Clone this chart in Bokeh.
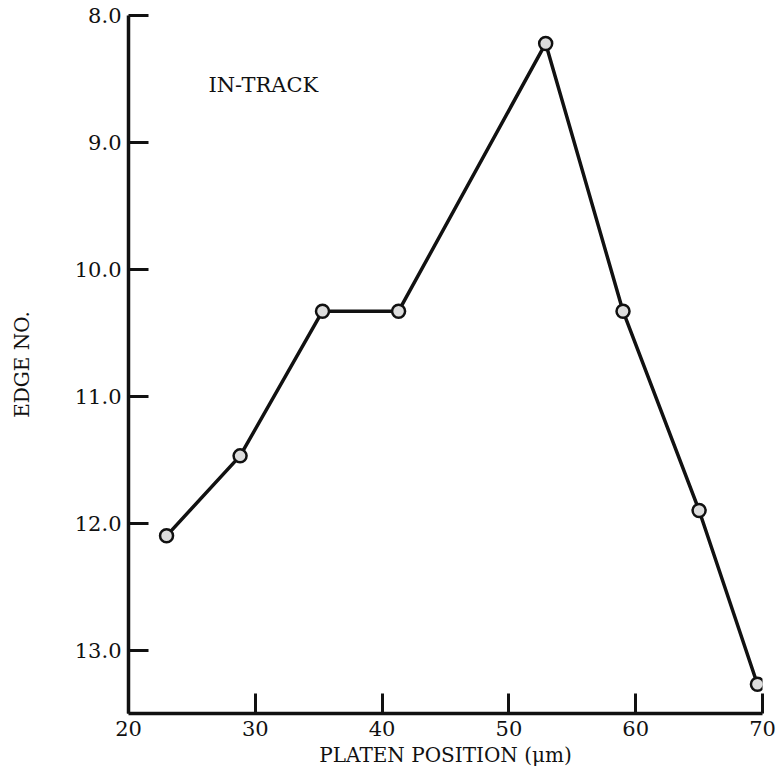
from bokeh.plotting import figure
from bokeh.models import Range1d, FixedTicker, PrintfTickFormatter, Label
from bokeh.embed import file_html
from bokeh.resources import INLINE

# Data
platen_position = [23.0, 28.8, 35.3, 41.3, 52.9, 59.0, 65.0, 69.6]
edge_no = [12.10, 11.47, 10.33, 10.33, 8.22, 10.33, 11.90, 13.27]
x_ticks = [20, 30, 40, 50, 60, 70]
y_ticks = [8, 9, 10, 11, 12, 13]

FONT = "DejaVu Serif"

p = figure(width=780, height=780, output_backend="svg", toolbar_location=None,
           x_range=Range1d(20, 70), y_range=Range1d(13.5, 8.0),
           min_border_left=128, min_border_right=18, min_border_top=15,
           min_border_bottom=67)
p.outline_line_color = None
p.xgrid.visible = False
p.ygrid.visible = False
p.background_fill_color = "white"
p.border_fill_color = "white"

p.line(platen_position, edge_no, line_color="#111111", line_width=3.5)
p.scatter(platen_position, edge_no, size=13, marker="circle",
          fill_color="#dddddd", line_color="#111111", line_width=2.5)

for ax in (p.xaxis[0], p.yaxis[0]):
    ax.axis_line_width = 3.5
    ax.axis_line_color = "#111111"
    ax.major_tick_line_width = 3
    ax.major_tick_line_color = "#111111"
    ax.major_tick_in = 20
    ax.major_tick_out = 0
    ax.minor_tick_line_color = None
    ax.major_label_text_font = FONT
    ax.major_label_text_font_size = "21px"
    ax.major_label_text_color = "#111111"
    ax.major_label_standoff = 7
    ax.axis_label_text_font = FONT
    ax.axis_label_text_font_style = "normal"
    ax.axis_label_text_font_size = "20px"
    ax.axis_label_text_color = "#111111"

p.xaxis.ticker = FixedTicker(ticks=x_ticks)
p.yaxis.ticker = FixedTicker(ticks=y_ticks)
p.yaxis.formatter = PrintfTickFormatter(format="%.1f")

p.yaxis.axis_label = "EDGE NO."
p.yaxis.axis_label_standoff = 38

p.xaxis.axis_label = "PLATEN POSITION (μm)"
p.xaxis.axis_label_standoff = 4

p.add_layout(Label(x=26.3, y=8.55, text="IN-TRACK",
                   text_font=FONT, text_font_size="21px", text_color="#111111",
                   text_align="left", text_baseline="middle"))

open("out.html", "w").write(file_html(p, INLINE))
